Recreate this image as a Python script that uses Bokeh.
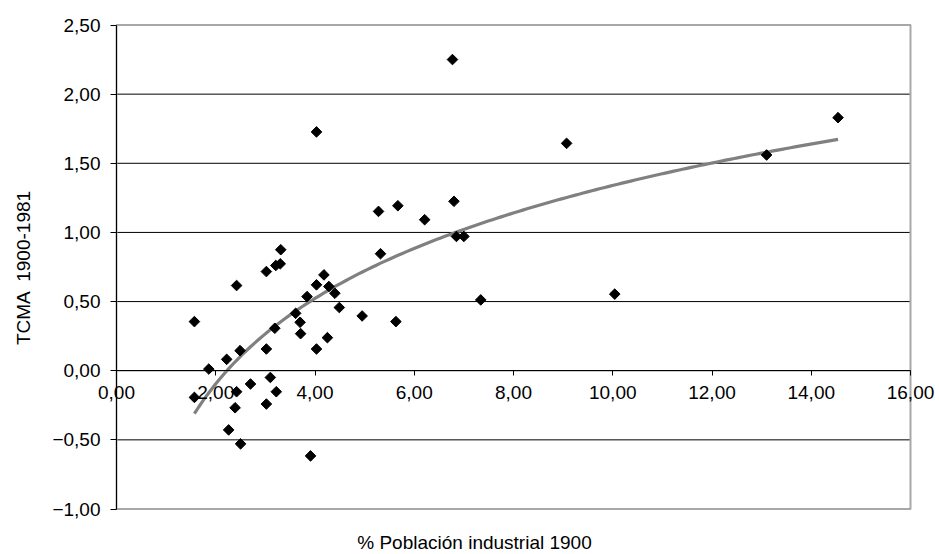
import numpy as np
from bokeh.plotting import figure
from bokeh.models import Range1d, FixedTicker, Label
from bokeh.embed import file_html
from bokeh.resources import INLINE

# ---------------- Data ----------------
x_pct_industrial = [1.57, 1.57, 1.86, 2.22, 2.26, 2.39, 2.42, 2.42, 2.49, 2.50,
                    2.70, 3.02, 3.02, 3.02, 3.10, 3.19, 3.21, 3.22, 3.30, 3.31,
                    3.61, 3.70, 3.71, 3.84, 3.91, 4.03, 4.03, 4.03, 4.18, 4.25,
                    4.28, 4.40, 4.49, 4.95, 5.28, 5.32, 5.63, 5.67, 6.21, 6.77,
                    6.80, 6.85, 7.00, 7.34, 9.07, 10.04, 13.10, 14.54]
y_tcma = [0.355, -0.193, 0.012, 0.082, -0.428, -0.268, 0.616, -0.152, 0.145, -0.529,
          -0.096, 0.717, 0.157, -0.241, -0.049, 0.307, 0.761, -0.152, 0.773, 0.875,
          0.415, 0.350, 0.268, 0.536, -0.616, 1.727, 0.621, 0.157, 0.693, 0.239,
          0.609, 0.560, 0.457, 0.396, 1.152, 0.846, 0.355, 1.193, 1.092, 2.250,
          1.225, 0.971, 0.971, 0.512, 1.644, 0.554, 1.560, 1.830]

x_ticks = [0, 2, 4, 6, 8, 10, 12, 14, 16]
x_tick_labels = ["0,00", "2,00", "4,00", "6,00", "8,00", "10,00", "12,00", "14,00", "16,00"]
y_ticks = [-1.0, -0.5, 0.0, 0.5, 1.0, 1.5, 2.0, 2.5]
y_tick_labels = ["\u22121,00", "\u22120,50", "0,00", "0,50", "1,00", "1,50", "2,00", "2,50"]

x_title = "% Población industrial 1900"
y_title = "TCMA \u00a01900-1981"

# ---------------- Layout (pixels) ----------------
W, H = 939, 554
PLOT_L, PLOT_R = 116, 910      # pixel positions of x = 0 and x = 16
PLOT_T, PLOT_B = 24.5, 508.5   # pixel positions of y = 2.5 and y = -1

xmin, xmax = x_ticks[0], x_ticks[-1]
ymin, ymax = y_ticks[0], y_ticks[-1]
sx = (PLOT_R - PLOT_L) / (xmax - xmin)
sy = (PLOT_B - PLOT_T) / (ymax - ymin)
x_start = xmin - PLOT_L / sx
x_end = x_start + W / sx
y_end = ymax + PLOT_T / sy
y_start = y_end - H / sy

def px_to_x(px):
    return x_start + px / sx

def py_to_y(py):
    return y_end - py / sy

# ---------------- Logarithmic trend line (least squares on ln x) ----------------
xs = np.array(x_pct_industrial)
ys = np.array(y_tcma)
b, a = np.polyfit(np.log(xs), ys, 1)
tx = np.linspace(xs.min(), xs.max(), 150)
ty = a + b * np.log(tx)

FONT = "Liberation Sans"
FS = "19px"

p = figure(width=W, height=H, output_backend="svg", toolbar_location=None,
           x_range=Range1d(x_start, x_end), y_range=Range1d(y_start, y_end),
           min_border=0, min_border_left=0, min_border_right=0,
           min_border_top=0, min_border_bottom=0)
p.outline_line_color = None
p.background_fill_color = "white"
p.border_fill_color = "white"
p.xgrid.visible = False
p.ygrid.visible = False

# Horizontal gridlines over the plot area
p.segment(x0=[xmin] * len(y_ticks), x1=[xmax] * len(y_ticks), y0=y_ticks, y1=y_ticks,
          line_color="black", line_width=1)
# Plot-area border
p.quad(left=[xmin], right=[xmax], bottom=[ymin], top=[ymax],
       fill_color=None, line_color="#a8a8a8", line_width=2)

# X axis crossing at y = 0
xa = p.xaxis[0]
xa.fixed_location = 0
xa.bounds = (xmin, xmax)
xa.ticker = FixedTicker(ticks=x_ticks)
xa.major_label_overrides = {t: l for t, l in zip(x_ticks, x_tick_labels)}
xa.axis_line_color = "black"
xa.axis_line_width = 1
xa.major_tick_line_color = "black"
xa.major_tick_out = 5
xa.major_tick_in = 0
xa.minor_tick_line_color = None
xa.major_label_standoff = 10
xa.major_label_text_font = FONT
xa.major_label_text_font_size = FS
xa.major_label_text_color = "black"

# Y axis at x = 0
ya = p.yaxis[0]
ya.fixed_location = 0
ya.bounds = (ymin, ymax)
ya.ticker = FixedTicker(ticks=y_ticks)
ya.major_label_overrides = {t: l for t, l in zip(y_ticks, y_tick_labels)}
ya.axis_line_color = "black"
ya.major_tick_line_color = "black"
ya.major_tick_out = 6
ya.major_tick_in = 0
ya.minor_tick_line_color = None
ya.major_label_standoff = 10
ya.major_label_text_font = FONT
ya.major_label_text_font_size = FS
ya.major_label_text_color = "black"
ya.axis_label = y_title
ya.axis_label_text_font = FONT
ya.axis_label_text_font_size = FS
ya.axis_label_text_font_style = "normal"
ya.axis_label_text_color = "black"
ya.axis_label_standoff = 15

# Trend line
p.line(tx, ty, line_color="#808080", line_width=3.2)

# Points (black diamonds)
p.scatter(x_pct_industrial, y_tcma, marker="square", size=7.5, angle=np.pi / 4,
          fill_color="black", line_color="black")

# X axis title
p.add_layout(Label(x=px_to_x(474), y=py_to_y(531), text=x_title,
                   text_align="center", text_baseline="top",
                   text_font=FONT, text_font_size=FS, text_color="black"))

open("out.html", "w").write(file_html(p, INLINE))
